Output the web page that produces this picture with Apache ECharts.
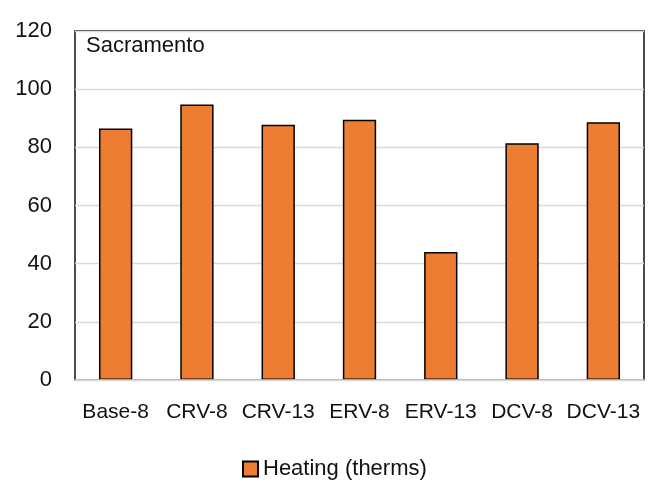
<!DOCTYPE html>
<html>
<head>
<meta charset="utf-8">
<script src="https://cdn.jsdelivr.net/npm/echarts@6/dist/echarts.min.js"></script>
<style>
  html, body { margin: 0; padding: 0; background: #fff; }
  #chart { width: 655px; height: 498px; }
</style>
</head>
<body>
<div id="chart"></div>
<script>
var categories = ['Base-8', 'CRV-8', 'CRV-13', 'ERV-8', 'ERV-13', 'DCV-8', 'DCV-13'];
var heating = [86.5, 94.7, 87.8, 89.5, 44.0, 81.4, 88.6];
var seriesName = 'Heating (therms)';
var cityName = 'Sacramento';

var font = 'Liberation Sans';
var chart = echarts.init(document.getElementById('chart'));

chart.setOption({
    backgroundColor: '#fff',
    animation: false,
    title: {
        text: cityName,
        left: 86,
        top: 35,
        padding: 0,
        textStyle: {
            color: '#111',
            fontSize: 22,
            fontWeight: 'normal',
            fontFamily: font
        }
    },
    legend: {
        left: 242,
        top: 458,
        padding: 0,
        itemWidth: 15,
        itemHeight: 15,
        textStyle: {
            color: '#111',
            fontSize: 22,
            fontFamily: font
        },
        data: [{ name: seriesName, icon: 'rect' }]
    },
    grid: {
        left: 75,
        right: 11,
        top: 31,
        bottom: 118,
        show: true,
        borderColor: '#000',
        borderWidth: 1.4
    },
    xAxis: {
        type: 'category',
        data: categories,
        z: 3,
        axisLine: {
            lineStyle: { color: '#d9d9d9', width: 1.6 }
        },
        axisTick: { show: false },
        axisLabel: {
            interval: 0,
            margin: 22,
            color: '#111',
            fontSize: 21,
            fontFamily: font
        }
    },
    yAxis: {
        type: 'value',
        min: 0,
        max: 120,
        interval: 20,
        axisLine: { show: false },
        axisTick: { show: false },
        splitLine: {
            lineStyle: { color: '#d9d9d9', width: 1.4 }
        },
        axisLabel: {
            margin: 23,
            color: '#111',
            fontSize: 22,
            fontFamily: font
        }
    },
    series: [{
        name: seriesName,
        type: 'bar',
        data: heating,
        barCategoryGap: '59%',
        itemStyle: {
            color: '#ED7D31',
            borderColor: '#000',
            borderWidth: 1.5
        }
    }]
});
</script>
</body>
</html>
